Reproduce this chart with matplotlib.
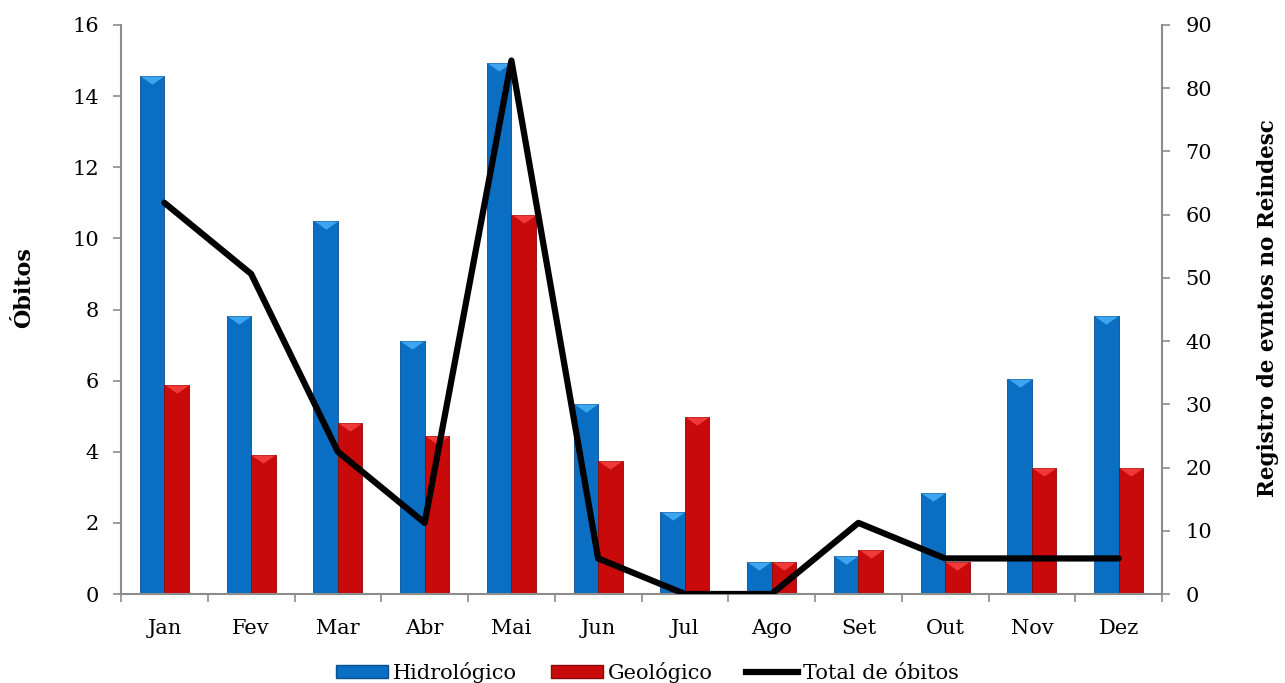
import matplotlib
matplotlib.use("Agg")
import matplotlib.pyplot as plt
import numpy as np
from matplotlib.lines import Line2D
from matplotlib.patches import Patch

months = ["Jan", "Fev", "Mar", "Abr", "Mai", "Jun", "Jul", "Ago", "Set", "Out", "Nov", "Dez"]
hidrologico = [82, 44, 59, 40, 84, 30, 13, 5, 6, 16, 34, 44]
geologico = [33, 22, 27, 25, 60, 21, 28, 5, 7, 5, 20, 20]
total_obitos = [11, 9, 4, 2, 15, 1, 0, 0, 2, 1, 1, 1]

plt.rcParams['font.family'] = ['DejaVu Serif']
FS = 15

fig = plt.figure(figsize=(12.85, 6.83), dpi=100)
ax = fig.add_axes([0.0942, 0.1303, 0.8101, 0.8331])
ax2 = ax.twinx()

x = np.arange(len(months))
w = 0.283
blue = "#0A6FC2"
red = "#C80A0A"
blue_lt = "#3EA6EE"
red_lt = "#F03A3A"

ax2.bar(x - w / 2, hidrologico, w, color=blue, edgecolor="#0A4F8F", linewidth=0.6, zorder=2)
ax2.bar(x + w / 2, geologico, w, color=red, edgecolor="#8A0808", linewidth=0.6, zorder=2)
tri = [(-1, 0), (1, 0), (0, -0.7), (-1, 0)]
ax2.scatter(x - w / 2, hidrologico, marker=tri, s=280, color=blue_lt, linewidths=0, zorder=3)
ax2.scatter(x + w / 2, geologico, marker=tri, s=280, color=red_lt, linewidths=0, zorder=3)

ax.plot(x, total_obitos, color="black", linewidth=4.5, solid_joinstyle="round",
        solid_capstyle="round", zorder=5)

ax.set_zorder(ax2.get_zorder() + 1)
ax.patch.set_visible(False)

ax.set_ylim(0, 16)
ax.set_yticks(np.arange(0, 17, 2))
ax2.set_ylim(0, 90)
ax2.set_yticks(np.arange(0, 91, 10))
ax.set_xlim(-0.5, 11.5)
ax.set_xticks(np.arange(-0.5, 12, 1))
ax.set_xticklabels([])
ax.set_xticks(x, minor=True)
ax.set_xticklabels(months, minor=True)

spine_c = "#8C8C8C"
for a in (ax, ax2):
    for s in a.spines.values():
        s.set_visible(False)
ax.spines['left'].set_visible(True)
ax.spines['bottom'].set_visible(True)
ax2.spines['right'].set_visible(True)
for s in (ax.spines['left'], ax.spines['bottom'], ax2.spines['right']):
    s.set_color(spine_c)
    s.set_linewidth(1.5)

ax.tick_params(axis='y', which='major', direction='out', length=6, width=1.2, color=spine_c,
               labelsize=FS, pad=10)
ax.tick_params(axis='x', which='major', direction='out', length=6, width=1.2, color=spine_c)
ax.tick_params(axis='x', which='minor', length=0, labelsize=FS, pad=18)
ax2.tick_params(axis='y', direction='out', length=6, width=1.2, color=spine_c,
                labelsize=FS, pad=11)

ax.set_ylabel("Óbitos", fontsize=16, fontweight='bold', va='center', ha='center')
ax.yaxis.set_label_coords(-0.093, 0.538)
ax2.set_ylabel("Registro de evntos no Reindesc", fontsize=15.5, fontweight='bold',
               rotation=90, va='center', ha='center')
ax2.yaxis.set_label_coords(1.102, 0.503)

handles = [Patch(facecolor=blue, edgecolor="#0A4F8F"),
           Patch(facecolor=red, edgecolor="#8A0808"),
           Line2D([0], [0], color="black", linewidth=4.5)]
labels = ["Hidrológico", "Geológico", "Total de óbitos"]
fig.legend(handles, labels, loc='center', bbox_to_anchor=(0.504, 0.016), ncol=3,
           frameon=False, fontsize=FS, handlelength=2.5, handleheight=0.6,
           handletextpad=0.25, columnspacing=1.6)

fig.savefig("out.png", dpi=100)
